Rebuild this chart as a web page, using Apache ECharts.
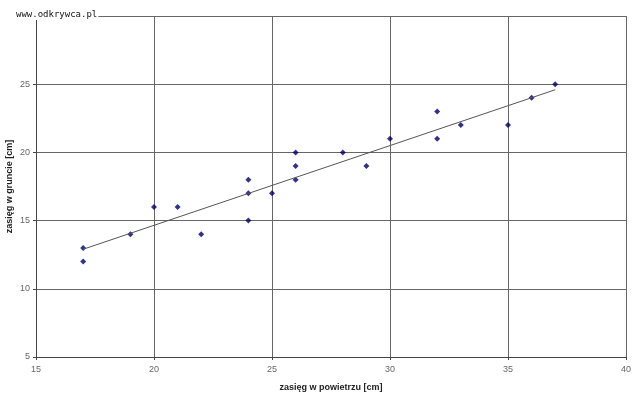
<!DOCTYPE html>
<html>
<head>
<meta charset="utf-8">
<script src="https://cdn.jsdelivr.net/npm/echarts@6/dist/echarts.min.js"></script>
<style>html,body{margin:0;padding:0;background:#fff}#chart{width:640px;height:399px}</style>
</head>
<body>
<div id="chart"></div>
<script>
var airRange = [17, 17, 19, 20, 21, 22, 24, 24, 24, 25, 26, 26, 26, 28, 29, 30, 32, 32, 33, 35, 36, 37];
var groundRange = [13, 12, 14, 16, 16, 14, 18, 17, 15, 17, 20, 19, 18, 20, 19, 21, 23, 21, 22, 22, 24, 25];
var xTitle = 'zasięg w powietrzu [cm]';
var yTitle = 'zasięg w gruncie [cm]';
var watermark = 'www.odkrywca.pl';

var points = [];
for (var i = 0; i < airRange.length; i++) points.push([airRange[i], groundRange[i]]);

// linear trend (least squares), like the spreadsheet's trendline
var n = airRange.length, sx = 0, sy = 0, sxx = 0, sxy = 0;
for (var i = 0; i < n; i++) {
    sx += airRange[i]; sy += groundRange[i];
    sxx += airRange[i] * airRange[i]; sxy += airRange[i] * groundRange[i];
}
var slope = (n * sxy - sx * sy) / (n * sxx - sx * sx);
var icpt = (sy - slope * sx) / n;
var xMin = Math.min.apply(null, airRange), xMax = Math.max.apply(null, airRange);
var trend = [[xMin, icpt + slope * xMin], [xMax, icpt + slope * xMax]];

var myChart = echarts.init(document.getElementById('chart'));
var option = {
    animation: false,
    textStyle: { fontFamily: 'Liberation Sans, Arial, sans-serif' },
    grid: { left: 36, right: 14, top: 16, bottom: 42, containLabel: false, outerBoundsMode: 'none' },
    xAxis: {
        type: 'value', min: 15, max: 40, interval: 5,
        name: xTitle, nameLocation: 'middle', nameGap: 26, nameMoveOverlap: false,
        nameTextStyle: { fontSize: 9, fontWeight: 'bold', color: '#222' },
        axisLine: { lineStyle: { color: '#444' } },
        axisTick: { show: true, length: 3, lineStyle: { color: '#444' } },
        axisLabel: { fontSize: 9, color: '#666', margin: 8 },
        splitLine: { lineStyle: { color: '#666' } }
    },
    yAxis: {
        type: 'value', min: 5, max: 30, interval: 5,
        name: yTitle, nameLocation: 'middle', nameGap: 22, nameMoveOverlap: false,
        nameTextStyle: { fontSize: 9, fontWeight: 'bold', color: '#222' },
        axisLine: { show: true, lineStyle: { color: '#444' } },
        axisTick: { show: true, length: 3, lineStyle: { color: '#444' } },
        axisLabel: { fontSize: 9, color: '#666', margin: 6, showMaxLabel: false },
        splitLine: { lineStyle: { color: '#666' } }
    },
    graphic: [{
        type: 'text', left: 16, top: 9, z: 100,
        style: { text: watermark, font: '9px DejaVu Sans Mono, monospace', fill: '#111',
                 backgroundColor: '#fff', padding: [1, 1, 1, 0] }
    }],
    series: [{
        type: 'scatter', data: points, symbol: 'diamond', symbolSize: 6,
        itemStyle: { color: '#000066' }
    }, {
        type: 'line', data: trend, showSymbol: false, symbol: 'none',
        lineStyle: { color: '#555', width: 1 }
    }]
};
myChart.setOption(option);
</script>
</body>
</html>
